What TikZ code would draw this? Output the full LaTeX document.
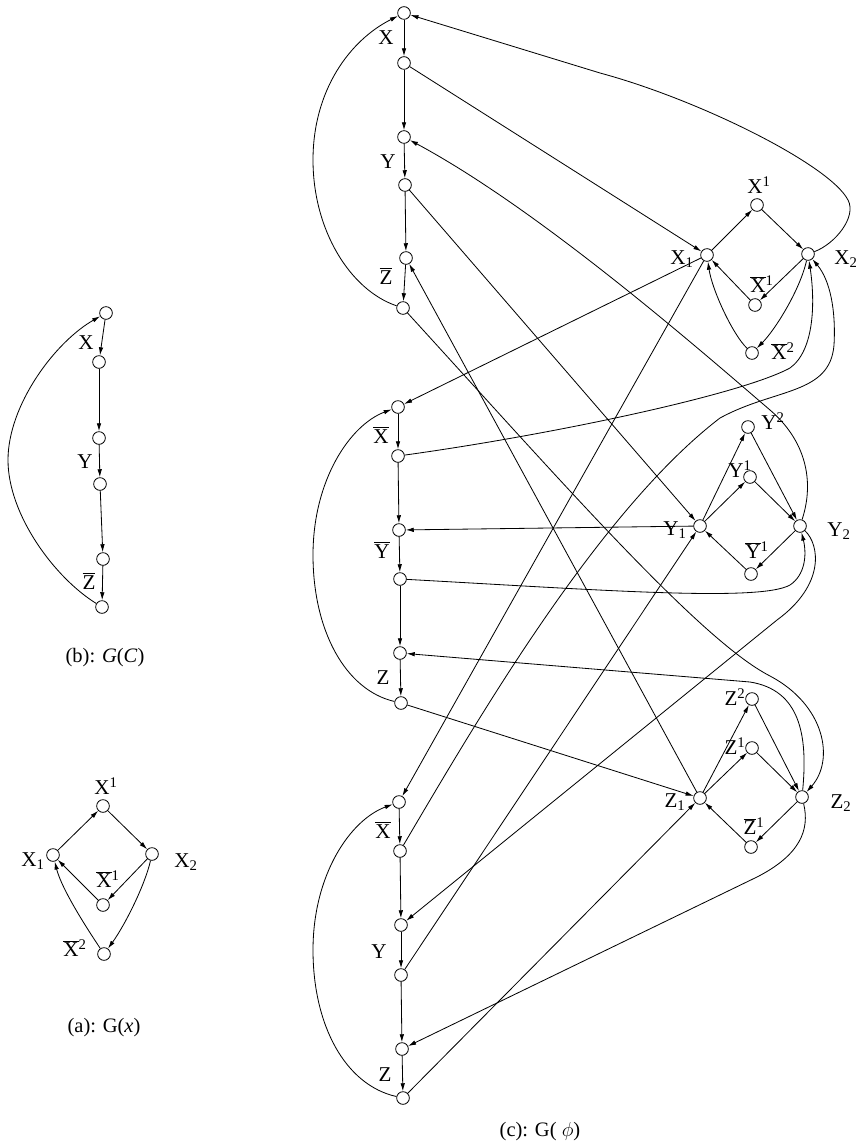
\documentclass[tikz,border=0pt]{standalone}
\usepackage{fontspec}
\setmainfont{Liberation Serif}
\usetikzlibrary{arrows.meta}
\newcommand\olt[1]{\ensuremath{\overline{\hbox{#1}}}}

\begin{document}
\begin{tikzpicture}[x=0.3mm,y=-0.3mm,
  v/.style={circle,draw,fill=white,minimum size=3.8mm,inner sep=0pt,line width=0.7pt},
  arr/.style={-{Latex[length=2.4mm,width=1.35mm]},line width=0.7pt},
  lbl/.style={font=\fontsize{18}{20}\selectfont,inner sep=0pt},
  captxt/.style={font=\fontsize{17.5}{20}\selectfont,inner sep=0pt}]
\fill[white] (0,0) rectangle (855,1142);
\useasboundingbox (0,0) rectangle (855,1142);

% ---------- (b): G(C) ----------
\node[v] (b1) at (106,313) {};
\node[v] (b2) at (99,362) {};
\node[v] (b3) at (99,438) {};
\node[v] (b4) at (100,484) {};
\node[v] (b5) at (103,559) {};
\node[v] (b6) at (102,607) {};
\draw[arr] (b1) -- (b2);
\draw[arr] (b2) -- (b3);
\draw[arr] (b3) -- (b4);
\draw[arr] (b4) -- (b5);
\draw[arr] (b5) -- (b6);
\draw[arr] (b6) .. controls (55,578) and (8,515) .. (8,460)
               .. controls (8,405) and (55,342) .. (b1);
\node[lbl] (lbX) at (86,343) {X};
\node[lbl] (lbY) at (85,462) {Y};
\node[lbl] (lbZ) at (89,581) {\olt{Z}};
\node[captxt] (capb) at (105,658) {(b): \textit{G}(\textit{C})};

% ---------- (a): G(x) ----------
\node[v] (a1) at (53,855) {};
\node[v] (a2) at (103,806) {};
\node[v] (a3) at (152,854) {};
\node[v] (a4) at (103,905) {};
\node[v] (a5) at (104,954) {};
\draw[arr] (a1) -- (a2);
\draw[arr] (a2) -- (a3);
\draw[arr] (a3) -- (a4);
\draw[arr] (a4) -- (a1);
\draw[arr] (a3) .. controls (145,885) and (125,925) .. (a5);
\draw[arr] (a5) .. controls (88,930) and (62,890) .. (a1);
\node[lbl] (la2) at (106,786) {X\textsuperscript{1}};
\node[lbl] (la1) at (33,861) {X\textsubscript{1}};
\node[lbl] (la3) at (186,862) {X\textsubscript{2}};
\node[lbl] (la4) at (108,879) {\olt{X}\textsuperscript{1}};
\node[lbl] (la5) at (75,948) {\olt{X}\textsuperscript{2}};
\node[captxt] (capa) at (104,1028) {(a): G(\textit{x})};

% ---------- (c): clause columns ----------
\foreach \n/\x/\y in {1/404/13,2/404/63,3/404/137,4/405/185,5/406/258,6/403/308,
  7/398/407,8/398/456,9/399/530,10/400/579,11/400/653,12/401/703,
  13/399/802,14/400/851,15/401/925,16/401/975,17/402/1049,18/403/1098}
  \node[v] (c\n) at (\x,\y) {};
\foreach \i/\j in {1/2,2/3,3/4,4/5,5/6,7/8,8/9,9/10,10/11,11/12,13/14,14/15,15/16,16/17,17/18}
  \draw[arr] (c\i) -- (c\j);
\draw[arr] (c6) .. controls (350,290) and (313,230) .. (313,160)
               .. controls (313,90) and (350,40) .. (c1);
\draw[arr] (c12) .. controls (345,690) and (313,630) .. (313,555)
                .. controls (313,480) and (350,425) .. (c7);
\draw[arr] (c18) .. controls (345,1085) and (313,1025) .. (313,950)
                .. controls (313,875) and (350,820) .. (c13);
\node[lbl] (lc1) at (386,38) {X};
\node[lbl] (lc2) at (388,162) {Y};
\node[lbl] (lc3) at (386,276) {\olt{Z}};
\node[lbl] (lc4) at (381,435) {\olt{X}};
\node[lbl] (lc5) at (382,550) {\olt{Y}};
\node[lbl] (lc6) at (383,678) {Z};
\node[lbl] (lc7) at (383,830) {\olt{X}};
\node[lbl] (lc8) at (379,952) {Y};
\node[lbl] (lc9) at (385,1075) {Z};
\node[captxt] (capc) at (540,1132) {(c): G( $\phi$)};

% ---------- variable gadget X ----------
\node[v] (X1) at (707,255) {};
\node[v] (Xp1) at (757,205) {};
\node[v] (X2) at (808,254) {};
\node[v] (Xn1) at (755,305) {};
\node[v] (Xn2) at (752,353) {};
\draw[arr] (X1) -- (Xp1);
\draw[arr] (Xp1) -- (X2);
\draw[arr] (X2) -- (Xn1);
\draw[arr] (Xn1) -- (X1);
\draw[arr] (X2) .. controls (800,290) and (775,330) .. (Xn2);
\draw[arr] (Xn2) .. controls (733,335) and (712,290) .. (X1);
\node[lbl] (lX1) at (682,259) {X\textsubscript{1}};
\node[lbl] (lXp1) at (759,185) {X\textsuperscript{1}};
\node[lbl] (lX2) at (846,259) {X\textsubscript{2}};
\node[lbl] (lXn1) at (762,284) {\olt{X}\textsuperscript{1}};
\node[lbl] (lXn2) at (783,351) {\olt{X}\textsuperscript{2}};

% ---------- variable gadget Y ----------
\node[v] (Y1) at (700,526) {};
\node[v] (Yp2) at (748,427) {};
\node[v] (Yp1) at (750,477) {};
\node[v] (Y2) at (800,526) {};
\node[v] (Yn1) at (751,574) {};
\draw[arr] (Y1) -- (Yp2);
\draw[arr] (Y1) -- (Yp1);
\draw[arr] (Yp2) -- (Y2);
\draw[arr] (Yp1) -- (Y2);
\draw[arr] (Y2) -- (Yn1);
\draw[arr] (Yn1) -- (Y1);
\node[lbl] (lY1) at (675,530) {Y\textsubscript{1}};
\node[lbl] (lYp2) at (773,421) {Y\textsuperscript{2}};
\node[lbl] (lYp1) at (740,469) {Y\textsuperscript{1}};
\node[lbl] (lY2) at (839,531) {Y\textsubscript{2}};
\node[lbl] (lYn1) at (757,550) {\olt{Y}\textsuperscript{1}};

% ---------- variable gadget Z ----------
\node[v] (Z1) at (700,798) {};
\node[v] (Zp2) at (752,699) {};
\node[v] (Zp1) at (752,748) {};
\node[v] (Z2) at (802,797) {};
\node[v] (Zn1) at (751,847) {};
\draw[arr] (Z1) -- (Zp2);
\draw[arr] (Z1) -- (Zp1);
\draw[arr] (Zp2) -- (Z2);
\draw[arr] (Zp1) -- (Z2);
\draw[arr] (Z2) -- (Zn1);
\draw[arr] (Zn1) -- (Z1);
\node[lbl] (lZ1) at (675,802) {Z\textsubscript{1}};
\node[lbl] (lZp2) at (735,697) {Z\textsuperscript{2}};
\node[lbl] (lZp1) at (735,746) {Z\textsuperscript{1}};
\node[lbl] (lZ2) at (841,803) {Z\textsubscript{2}};
\node[lbl] (lZn1) at (754,826) {\olt{Z}\textsuperscript{1}};

% ---------- connections between clauses and gadgets ----------
% clause 1
\draw[arr] (c2) -- (X1);
\draw[arr] (X2) .. controls (835,244) and (857,217) .. (848,200)
               .. controls (830,165) and (700,100) .. (600,73) -- (c1);
\draw[arr] (c4) -- (Y1);
\draw[arr] (Y2) .. controls (815,480) and (805,440) .. (770,410)
               .. controls (700,350) and (540,210) .. (c3);
\draw[arr] (Z1) -- (c5);
\draw[arr] (c6) .. controls (560,480) and (700,640) .. (770,676)
               .. controls (825,705) and (835,760) .. (Z2);
% clause 2
\draw[arr] (X1) -- (c7);
\draw[arr] (c8) .. controls (550,435) and (740,395) .. (790,368)
               .. controls (815,350) and (815,300) .. (X2);
\draw[arr] (Y1) -- (c9);
\draw[arr] (c10) .. controls (600,590) and (760,602) .. (790,585)
                .. controls (805,575) and (807,555) .. (Y2);
\draw[arr] (Z2) .. controls (808,735) and (800,690) .. (750,682) -- (c11);
\draw[arr] (c12) -- (Z1);
% clause 3
\draw[arr] (X1) -- (c13);
\draw[arr] (c14) .. controls (480,715) and (600,510) .. (720,418)
                .. controls (775,388) and (830,395) .. (834,345)
                .. controls (836,310) and (830,280) .. (X2);
\draw[arr] (Y2) .. controls (820,545) and (825,585) .. (777,620) -- (c15);
\draw[arr] (c16) -- (Y1);
\draw[arr] (Z2) .. controls (810,830) and (800,855) .. (757,877) -- (c17);
\draw[arr] (c18) -- (Z1);
\end{tikzpicture}
\end{document}
